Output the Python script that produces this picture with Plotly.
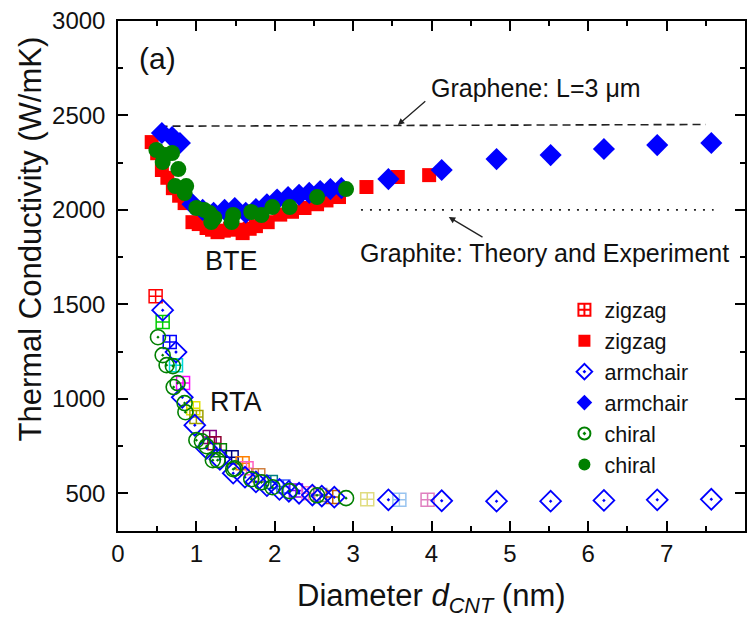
import plotly.graph_objects as go

# ---------------- data ----------------
# Zigzag, RTA (open squares with cross, one colour per tube)
zz_rta_d = [0.48, 0.57, 0.66, 0.74, 0.83, 0.96, 1.00, 1.17, 1.23, 1.30, 1.45, 1.59, 1.64, 1.79,
            1.95, 2.11, 2.27, 2.43, 2.58, 2.74, 3.18, 3.59, 3.95]
zz_rta_k = [1543, 1406, 1300, 1178, 1083, 950, 903, 797, 765, 728, 690, 659, 632, 595,
            560, 535, 515, 500, 490, 480, 468, 465, 465]
zz_rta_colors = ["#ff0000", "#00cc00", "#0000ff", "#00d8d8", "#ff00ff", "#e0e000", "#a0a000",
                 "#800080", "#900030", "#008000", "#000080", "#ff8000", "#ff60c0", "#d08040",
                 "#008080", "#4060ff", "#8000ff", "#ff80c0", "#808080", "#c06000",
                 "#e0dc80", "#98c4f0", "#e080c0"]

# Zigzag, BTE (filled squares)
zz_bte_d = [0.43, 0.50, 0.56, 0.63, 0.70, 0.78, 0.85, 0.95, 1.03, 1.13, 1.20, 1.27, 1.35, 1.43,
            1.51, 1.59, 1.68, 1.76, 1.91, 2.07, 2.22, 2.38, 2.54, 2.66, 2.82, 3.17, 3.57, 3.97]
zz_bte_k = [2359, 2300, 2211, 2170, 2115, 2075, 2036, 1935, 1925, 1904, 1895, 1882, 1890, 1900,
            1895, 1877, 1900, 1914, 1935, 1975, 1990, 2010, 2030, 2050, 2068, 2121, 2174, 2184]

# Armchair, RTA (open diamonds)
ac_rta_d = [0.57, 0.74, 0.82, 0.98, 1.13, 1.30, 1.47, 1.62, 1.76, 1.90, 2.06, 2.18, 2.31, 2.48,
            2.60, 2.76, 3.45, 4.13, 4.83, 5.52, 6.20, 6.88, 7.57]
ac_rta_k = [1469, 1247, 1008, 860, 738, 680, 606, 585, 560, 540, 520, 510, 500, 490,
            485, 479, 465, 460, 458, 458, 462, 465, 468]

# Armchair, BTE (filled diamonds)
ac_bte_d = [0.56, 0.69, 0.79, 0.95, 1.08, 1.22, 1.36, 1.49, 1.63, 1.76, 1.90, 2.03, 2.17, 2.31,
            2.44, 2.58, 2.71, 2.85, 3.45, 4.13, 4.83, 5.52, 6.20, 6.88, 7.57]
ac_bte_k = [2407, 2386, 2354, 2030, 2000, 1985, 2000, 2010, 1985, 2005, 2030, 2055, 2068, 2080,
            2090, 2100, 2110, 2115, 2163, 2211, 2269, 2290, 2322, 2343, 2354]

# Chiral, RTA (open circles)
ch_rta_d = [0.51, 0.57, 0.62, 0.70, 0.71, 0.76, 0.85, 0.86, 1.00, 1.07, 1.13, 1.21, 1.27, 1.47,
            1.49, 1.70, 1.83, 1.97, 2.19, 2.54, 2.91]
ch_rta_k = [1326, 1231, 1178, 1173, 1062, 1083, 977, 929, 781, 775, 749, 675, 675, 627,
            632, 574, 558, 532, 511, 489, 474]

# Chiral, BTE (filled circles)
ch_bte_d = [0.49, 0.57, 0.60, 0.69, 0.77, 0.73, 0.87, 0.85, 1.00, 1.10, 1.17, 1.23, 1.19, 1.47,
            1.45, 1.70, 1.83, 1.97, 2.19, 2.54, 2.91]
ch_bte_k = [2317, 2253, 2290, 2301, 2216, 2126, 2126, 2089, 2010, 2000, 1983, 1957, 1936, 1973,
            1936, 1989, 1973, 2015, 2015, 2068, 2110]

# Reference lines
graphene_d = [0.53, 3.0, 6.9, 7.5]
graphene_k = [2443, 2445, 2452, 2452]
graphite_d = [3.1, 7.6]
graphite_k = [2000, 2000]

FONT = "Liberation Sans, Arial, sans-serif"
BLUE = "#0000ff"
RED = "#ff0000"
GREEN = "#008000"

fig = go.Figure()

fig.add_trace(go.Scatter(x=graphene_d, y=graphene_k, mode="lines", showlegend=False,
                         line=dict(color="#222222", width=1.6, dash="8px,5px")))
fig.add_trace(go.Scatter(x=graphite_d, y=graphite_k, mode="lines", showlegend=False,
                         line=dict(color="#222222", width=1.8, dash="2px,7px")))

fig.add_trace(go.Scatter(x=zz_rta_d, y=zz_rta_k, mode="markers", name="zigzag",
                         marker=dict(symbol="square-cross-open", size=13, color=zz_rta_colors,
                                     line=dict(width=1.5))))
fig.add_trace(go.Scatter(x=zz_bte_d, y=zz_bte_k, mode="markers", name="zigzag",
                         marker=dict(symbol="square", size=14, color=RED)))
fig.add_trace(go.Scatter(x=ac_rta_d, y=ac_rta_k, mode="markers", name="armchair",
                         marker=dict(symbol="diamond-open-dot", size=16, color=BLUE,
                                     line=dict(width=1.8))))
fig.add_trace(go.Scatter(x=ac_bte_d, y=ac_bte_k, mode="markers", name="armchair",
                         marker=dict(symbol="diamond", size=17, color=BLUE)))
fig.add_trace(go.Scatter(x=ch_rta_d, y=ch_rta_k, mode="markers", name="chiral",
                         marker=dict(symbol="circle-open-dot", size=15, color=GREEN,
                                     line=dict(width=1.6))))
fig.add_trace(go.Scatter(x=ch_bte_d, y=ch_bte_k, mode="markers", name="chiral",
                         marker=dict(symbol="circle", size=16, color=GREEN)))

axis_common = dict(showline=True, linecolor="black", linewidth=1.5, mirror="allticks",
                   ticks="inside", ticklen=10, tickwidth=1.5, tickcolor="black",
                   showgrid=False, zeroline=False,
                   tickfont=dict(family=FONT, size=24, color="#111111"))

fig.update_xaxes(range=[0, 8], tick0=0, dtick=1,
                 minor=dict(dtick=0.5, ticks="inside", ticklen=5, tickwidth=1.5, tickcolor="black"),
                 **axis_common)
fig.update_yaxes(range=[300, 3000], tick0=0, dtick=500, ticklabelstandoff=6,
                 minor=dict(dtick=250, ticks="inside", ticklen=5, tickwidth=1.5, tickcolor="black"),
                 **axis_common)

ann = []
ann.append(dict(text="Thermal Conductivity (W/mK)", xref="paper", yref="paper",
                x=-0.14, y=0.572, textangle=-90, showarrow=False,
                xanchor="center", yanchor="middle", font=dict(family=FONT, size=31, color="#111111")))
ann.append(dict(text="Diameter <i>d<sub>CNT</sub></i> (nm)", xref="paper", yref="paper",
                x=0.5, y=-0.131, showarrow=False, xanchor="center", yanchor="middle",
                font=dict(family=FONT, size=31, color="#111111")))
ann.append(dict(text="(a)", x=0.50, y=2799, showarrow=False, font=dict(family=FONT, size=30, color="#111111")))
ann.append(dict(text="BTE", x=1.45, y=1729, showarrow=False, font=dict(family=FONT, size=27, color="#111111")))
ann.append(dict(text="RTA", x=1.51, y=982, showarrow=False, font=dict(family=FONT, size=27, color="#111111")))
ann.append(dict(text="Graphene: L=3 \u03bcm", x=5.33, y=2645, showarrow=False,
                font=dict(family=FONT, size=25, color="#111111")))
ann.append(dict(text="Graphite: Theory and Experiment", x=5.44, y=1771, showarrow=False,
                font=dict(family=FONT, size=25, color="#111111")))
ann.append(dict(text="", x=3.57, y=2449, ax=3.94, ay=2582, axref="x", ayref="y",
                showarrow=True, arrowhead=2, arrowsize=1, arrowwidth=1.3, arrowcolor="#222222"))
ann.append(dict(text="", x=4.22, y=1962, ax=4.67, ay=1851, axref="x", ayref="y",
                showarrow=True, arrowhead=2, arrowsize=1, arrowwidth=1.3, arrowcolor="#222222"))

fig.update_layout(
    width=748, height=620,
    margin=dict(l=118, r=1, t=21, b=89),
    paper_bgcolor="white", plot_bgcolor="white",
    annotations=ann,
    legend=dict(x=0.712, y=0.474, xanchor="left", yanchor="top",
                bgcolor="rgba(0,0,0,0)", itemsizing="constant",
                font=dict(family=FONT, size=21.5, color="#111111")),
)

fig.write_html("out.html")
